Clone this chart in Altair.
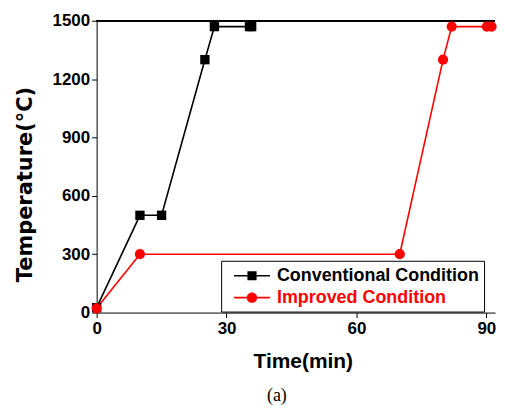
import altair as alt
import pandas as pd

# ---- data ----
series_names = ["Conventional Condition", "Improved Condition"]
conv_time = [0, 10, 15, 25, 27.2, 35.3, 35.8]
conv_temp = [25, 500, 500, 1300, 1470, 1470, 1470]
imp_time = [0, 10, 70, 80, 82, 90.1, 91.2]
imp_temp = [22, 300, 300, 1300, 1470, 1470, 1470]
x_ticks = [0, 30, 60, 90]
y_ticks = [0, 300, 600, 900, 1200, 1500]

rows = []
for i, (t, v) in enumerate(zip(conv_time, conv_temp)):
    rows.append({"series": series_names[0], "time": t, "temp": v, "idx": i})
for i, (t, v) in enumerate(zip(imp_time, imp_temp)):
    rows.append({"series": series_names[1], "time": t, "temp": v, "idx": i})
df = pd.DataFrame(rows)

colors = ["#000000", "#ff0000"]
SANS = "Liberation Sans"

x_enc = alt.X("time:Q", scale=alt.Scale(domain=[0, 92], nice=False, zero=False),
              axis=alt.Axis(values=x_ticks, title="Time(min)", grid=False, format="d",
                            labelFont=SANS, labelFontSize=17, labelFontWeight="bold",
                            labelColor="black", labelPadding=3, labelFlush=False,
                            titleFont=SANS, titleFontSize=21, titleFontWeight="bold",
                            titleColor="black", titlePadding=14, titleX=207,
                            domainColor="black", tickColor="black", tickSize=5))
y_enc = alt.Y("temp:Q", scale=alt.Scale(domain=[0, 1500], nice=False),
              axis=alt.Axis(values=y_ticks, title="Temperature(°C)", grid=False, format="d",
                            labelFont=SANS, labelFontSize=17, labelFontWeight="bold",
                            labelColor="black", labelPadding=2,
                            titleFont="DejaVu Sans", titleFontSize=21, titleFontWeight="bold",
                            titleColor="black", titlePadding=17, titleY=164,
                            domainColor="black", tickColor="black", tickSize=5))

color_scale = alt.Scale(domain=series_names, range=colors)

base = alt.Chart(df)

top_rule = base.mark_rule(color="black", strokeWidth=1).encode(y=alt.datum(1500))

lines = base.mark_line(strokeWidth=1.6).encode(
    x=x_enc, y=y_enc,
    color=alt.Color("series:N", scale=color_scale, legend=None),
    order="idx:Q",
)

squares = base.transform_filter(alt.datum.series == series_names[0]).mark_point(
    shape="square", filled=True, size=88, opacity=1
).encode(x="time:Q", y="temp:Q",
         color=alt.Color("series:N", scale=color_scale, legend=None))

circles = base.transform_filter(alt.datum.series == series_names[1]).mark_point(
    shape="circle", filled=True, size=105, opacity=1
).encode(x="time:Q", y="temp:Q",
         color=alt.Color("series:N", scale=color_scale, legend=None))

# legend symbols: line segment + marker
sq_path = "M-1.8,-0.08H1.8V0.08H-1.8Z M-0.46,-0.46H0.46V0.46H-0.46Z"
ci_path = ("M-1.8,-0.09H1.8V0.09H-1.8Z "
           "M0.52,0A0.52,0.52 0 1,1 -0.52,0A0.52,0.52 0 1,1 0.52,0Z")

legend = alt.Legend(
    title=None, orient="none", legendX=125, legendY=241,
    strokeColor="black", fillColor="white", padding=5,
    symbolSize=400, symbolOffset=16, symbolOpacity=1, symbolStrokeWidth=0,
    labelOffset=15, labelLimit=0, labelFont=SANS, labelFontSize=18, labelFontWeight="bold",
    labelColor={"expr": "datum.label === 'Improved Condition' ? '#ff0000' : '#000000'"},
    rowPadding=3,
)

legend_layer = base.mark_point(filled=True, opacity=0).encode(
    x=x_enc, y=y_enc,
    color=alt.Color("series:N", scale=color_scale, legend=legend),
    shape=alt.Shape("series:N", scale=alt.Scale(domain=series_names, range=[sq_path, ci_path]),
                    legend=legend),
)

chart = alt.layer(legend_layer, top_rule, lines, squares, circles).properties(
    width=400, height=293,
    padding={"left": 6, "top": 3, "right": 0, "bottom": 0},
    title=alt.Title("(a)", orient="bottom", font="Liberation Serif", fontSize=18,
                    fontWeight="normal", color="black", offset=16, dx=-19),
).configure_view(stroke=None)

chart.save("out.html", embed_options={"renderer": "svg", "actions": False})
